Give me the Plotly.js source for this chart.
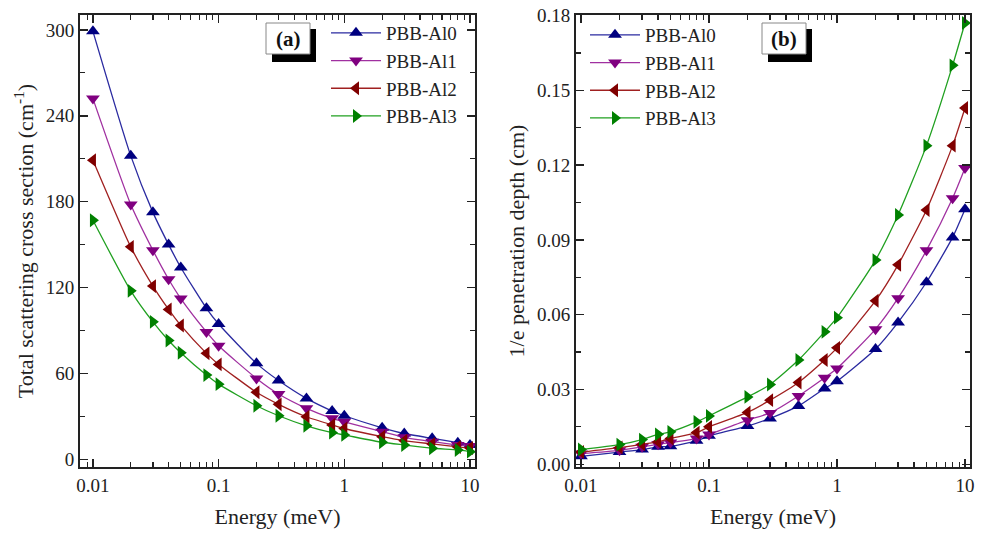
<!DOCTYPE html>
<html>
<head>
<meta charset="utf-8">
<script src="https://cdn.plot.ly/plotly-3.0.1.min.js"></script>
<style>html,body{margin:0;padding:0;background:#fff;}#chart{width:983px;height:533px;}</style>
</head>
<body>
<div id="chart"></div>
<script>
// Energy (meV)
var energy = [0.01, 0.02, 0.03, 0.04, 0.05, 0.08, 0.1, 0.2, 0.3, 0.5, 0.8, 1, 2, 3, 5, 8, 10];
var seriesNames = ["PBB-Al0", "PBB-Al1", "PBB-Al2", "PBB-Al3"];

// (a) Total scattering cross section (cm^-1)
var sigmaAl0 = [299, 212, 172.5, 150, 134, 105.5, 94.5, 67, 55, 42.5, 33.7, 30.4, 22, 18, 14.6, 11.6, 10];
var sigmaAl1 = [252, 178, 146, 125.8, 112.3, 89, 79.3, 56.5, 45.6, 35.6, 28.6, 26.2, 19.3, 15.3, 12.3, 10, 9.3];
var sigmaAl2 = [209, 148.4, 121, 104.7, 93.5, 74, 66.3, 46.8, 38.4, 29.7, 24, 21.5, 15.8, 13, 10.7, 8.6, 7.9];
var sigmaAl3 = [167, 117.7, 96, 83, 74.4, 58.8, 52.5, 37.4, 30.4, 23.4, 18.6, 17, 11.9, 10, 7.7, 6.5, 5.3];

// (b) 1/e penetration depth (cm)
var depthAl0 = [0.0032, 0.0049, 0.0059, 0.0070, 0.0072, 0.0094, 0.0114, 0.0153, 0.0184, 0.0234, 0.0304, 0.0333, 0.0462, 0.0569, 0.0730, 0.0910, 0.1023];
var depthAl1 = [0.0043, 0.0056, 0.0070, 0.0080, 0.0087, 0.0103, 0.0119, 0.0177, 0.0206, 0.0274, 0.0347, 0.0384, 0.0542, 0.0666, 0.0858, 0.1067, 0.1188];
var depthAl2 = [0.0049, 0.0067, 0.0080, 0.0090, 0.0103, 0.0127, 0.0150, 0.0208, 0.0257, 0.0328, 0.0418, 0.0467, 0.0656, 0.0800, 0.1020, 0.1278, 0.1429];
var depthAl3 = [0.0059, 0.0079, 0.0099, 0.0120, 0.0130, 0.0170, 0.0194, 0.0270, 0.0320, 0.0418, 0.0531, 0.0588, 0.0819, 0.1000, 0.1278, 0.1600, 0.1770];

var xTickVals = [0.01, 0.1, 1, 10];
var xTickText = ["0.01", "0.1", "1", "10"];

var markerColors = ["#000080", "#800080", "#800000", "#008000"];
var lineColors = ["#2a2aa0", "#a030a0", "#a02020", "#20a020"];
var symbols = ["triangle-up", "triangle-down", "triangle-left", "triangle-right"];

var sigma = [sigmaAl0, sigmaAl1, sigmaAl2, sigmaAl3];
var depth = [depthAl0, depthAl1, depthAl2, depthAl3];

var traces = [];
for (var i = 0; i < 4; i++) {
  traces.push({
    x: energy, y: sigma[i], xaxis: "x", yaxis: "y", name: seriesNames[i],
    type: "scatter", mode: "lines+markers", line: {shape: "spline", smoothing: 0.6, color: lineColors[i], width: 1.3},
    marker: {symbol: symbols[i], size: 12, color: markerColors[i]},
    legend: "legend"
  });
}
for (var j = 0; j < 4; j++) {
  traces.push({
    x: energy, y: depth[j], xaxis: "x2", yaxis: "y2", name: seriesNames[j],
    type: "scatter", mode: "lines+markers", line: {shape: "spline", smoothing: 0.6, color: lineColors[j], width: 1.3},
    marker: {symbol: symbols[j], size: 12, color: markerColors[j]},
    legend: "legend2"
  });
}

var fontFam = "Liberation Serif";
var W = 983, H = 533, PH = 452, T = 15;
function px(x) { return x / W; }
function py(y) { return 1 - (y - T) / PH; }

var axisCommon = {
  showline: true, linewidth: 2, linecolor: "#222", mirror: "allticks",
  ticks: "inside", ticklen: 8, tickwidth: 1.5, tickcolor: "#222",
  showgrid: false, zeroline: false,
  tickfont: {family: fontFam, size: 19, color: "#222"}
};

function xAxis(domain, range, anchor) {
  return Object.assign({}, axisCommon, {
    type: "log", domain: domain, range: range, anchor: anchor,
    tickmode: "array", tickvals: xTickVals, ticktext: xTickText,
    minor: {dtick: "D1", ticks: "inside", ticklen: 5, tickwidth: 1.2, tickcolor: "#222", showgrid: false},
    title: {text: "Energy (meV)", font: {family: fontFam, size: 22, color: "#222"}, standoff: 14}
  });
}

var layout = {
  width: W, height: H,
  margin: {l: 0, r: 0, t: T, b: 66},
  paper_bgcolor: "#fff", plot_bgcolor: "#fff",
  font: {family: fontFam, color: "#222"},
  xaxis: xAxis([px(80), px(475)], [-2.103, 1.04], "y"),
  xaxis2: xAxis([px(576), px(970)], [-2.039, 1.039], "y2"),
  yaxis: Object.assign({}, axisCommon, {
    domain: [0, 1], range: [-5.4, 310.4], anchor: "x",
    tickmode: "linear", tick0: 0, dtick: 60,
    minor: {dtick: 30, ticks: "inside", ticklen: 5, tickwidth: 1.2, tickcolor: "#222", showgrid: false},
    title: {text: "Total scattering cross section (cm<sup>-1</sup>)", font: {family: fontFam, size: 22, color: "#222"}, standoff: 6}
  }),
  yaxis2: Object.assign({}, axisCommon, {
    domain: [0, 1], range: [-0.0011, 0.1802], anchor: "x2",
    tickmode: "linear", tick0: 0, dtick: 0.03, tickformat: ".2f",
    minor: {dtick: 0.015, ticks: "inside", ticklen: 5, tickwidth: 1.2, tickcolor: "#222", showgrid: false},
    title: {text: "1/e penetration depth (cm)", font: {family: fontFam, size: 22, color: "#222"}, standoff: 6}
  }),
  legend: {
    x: px(326), y: py(14), xanchor: "left", yanchor: "top",
    bgcolor: "rgba(0,0,0,0)", font: {family: fontFam, size: 19, color: "#222"},
    tracegroupgap: 0, itemwidth: 50
  },
  legend2: {
    x: px(585), y: py(16), xanchor: "left", yanchor: "top",
    bgcolor: "rgba(0,0,0,0)", font: {family: fontFam, size: 19, color: "#222"},
    tracegroupgap: 0, itemwidth: 50
  },
  shapes: [
    {type: "rect", xref: "paper", yref: "paper", x0: px(272), x1: px(316), y0: py(62), y1: py(29),
      fillcolor: "#000", line: {width: 0}, layer: "above"},
    {type: "rect", xref: "paper", yref: "paper", x0: px(266), x1: px(310), y0: py(54), y1: py(23),
      fillcolor: "#fff", line: {color: "#888", width: 1}, layer: "above"},
    {type: "rect", xref: "paper", yref: "paper", x0: px(768), x1: px(812), y0: py(62), y1: py(29),
      fillcolor: "#000", line: {width: 0}, layer: "above"},
    {type: "rect", xref: "paper", yref: "paper", x0: px(762), x1: px(806), y0: py(54), y1: py(23),
      fillcolor: "#fff", line: {color: "#888", width: 1}, layer: "above"}
  ],
  annotations: [
    {text: "<b>(a)</b>", xref: "paper", yref: "paper", x: px(288), y: py(39), xanchor: "center", yanchor: "middle",
      showarrow: false, font: {family: fontFam, size: 21, color: "#111"}},
    {text: "<b>(b)</b>", xref: "paper", yref: "paper", x: px(784), y: py(39), xanchor: "center", yanchor: "middle",
      showarrow: false, font: {family: fontFam, size: 21, color: "#111"}}
  ]
};

Plotly.newPlot("chart", traces, layout, {displayModeBar: false, staticPlot: true});
</script>
</body>
</html>
